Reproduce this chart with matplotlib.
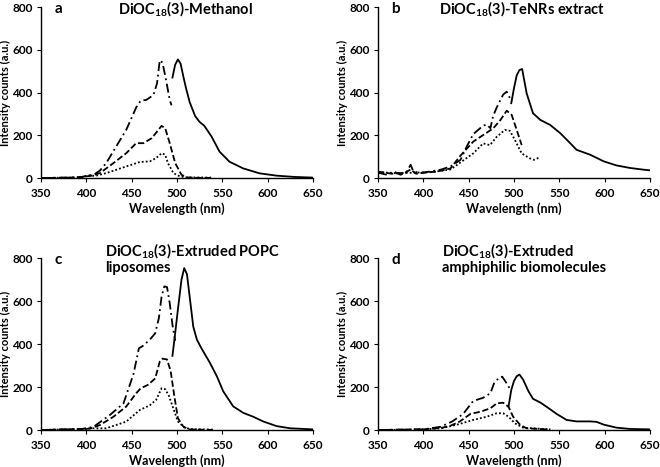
import matplotlib
matplotlib.use("Agg")
import matplotlib.pyplot as plt

plt.rcParams['font.family'] = ['Lato', 'DejaVu Sans']
plt.rcParams['font.weight'] = 'bold'
plt.rcParams['mathtext.fontset'] = 'custom'
plt.rcParams['mathtext.rm'] = 'Lato:bold'
plt.rcParams['mathtext.bf'] = 'Lato:bold'

# Panel a - Methanol
a_solid_x = [495, 498, 501, 504, 507, 510, 514, 520, 525, 530, 538, 547, 558, 573, 591, 610, 630, 650]
a_solid_y = [470, 530, 555, 535, 475, 420, 355, 290, 262, 245, 195, 123, 76, 45, 22, 11, 5, 2]
a_dashdot_x = [350, 380, 395, 402, 408, 415, 422, 433, 444, 455, 460, 466, 474, 478, 481, 484, 488, 492, 494]
a_dashdot_y = [0, 2, 5, 12, 15, 35, 70, 148, 225, 330, 362, 365, 388, 443, 551, 540, 458, 365, 340]
a_dash_x = [350, 390, 400, 405, 415, 430, 444, 455, 463, 472, 478, 483, 487, 492, 498, 505, 511, 520, 540]
a_dash_y = [0, 2, 8, 10, 23, 70, 116, 163, 163, 186, 217, 244, 233, 163, 70, 15, 3, 1, 0]
a_dot_x = [350, 395, 402, 410, 422, 444, 459, 470, 477, 483, 487, 490, 496, 503, 510, 540]
a_dot_y = [0, 3, 12, 10, 23, 54, 75, 78, 93, 116, 109, 70, 23, 8, 3, 2]

# Panel b - TeNRs extract
b_solid_x = [497, 500, 503, 506, 509, 514, 521, 529, 540, 551, 562, 569, 584, 599, 613, 628, 643, 650]
b_solid_y = [350, 420, 480, 505, 510, 396, 303, 272, 248, 210, 163, 132, 109, 78, 59, 47, 39, 36]
b_dashdot_x = [350, 360, 367, 375, 382, 386, 389, 397, 408, 419, 430, 441, 448, 455, 466, 470, 474, 477, 481, 488, 492, 497.5]
b_dashdot_y = [25, 15, 31, 15, 31, 62, 31, 23, 31, 39, 54, 85, 148, 205, 245, 250, 233, 290, 330, 390, 404, 357]
b_dash_x = [350, 365, 380, 386, 392, 400, 415, 430, 440, 455, 466, 477, 485, 492, 497.5, 503, 508.5]
b_dash_y = [30, 20, 25, 40, 20, 25, 30, 45, 100, 170, 201, 232, 271, 315, 295, 225, 154]
b_dot_x = [350, 370, 390, 410, 430, 440, 455, 466, 473.5, 481, 490, 495.5, 501, 508.5, 517.5, 522, 528.7]
b_dot_y = [28, 22, 25, 28, 40, 70, 115, 162, 154, 193, 225, 221, 178, 115, 92, 85, 97]

# Panel c - Extruded POPC liposomes
c_solid_x = [495, 498, 501, 505, 508, 511, 514, 518, 522, 527, 536, 544, 551, 562, 573, 584, 595, 610, 625, 650]
c_solid_y = [345, 450, 560, 700, 753, 725, 620, 480, 420, 380, 315, 250, 180, 110, 80, 62, 40, 18, 8, 3]
c_dashdot_x = [350, 395, 402, 408, 426, 441, 452, 458, 462, 470, 476, 480, 483, 486, 489, 492, 495, 498]
c_dashdot_y = [0, 5, 10, 15, 70, 124, 260, 380, 390, 420, 450, 520, 620, 668, 665, 590, 490, 415]
c_dash_x = [350, 400, 405, 415, 430, 444, 455, 460, 468, 476, 481, 484, 489, 493, 497, 501, 507, 513, 540]
c_dash_y = [0, 5, 8, 23, 62, 109, 171, 194, 210, 240, 318, 332, 328, 275, 160, 55, 16, 3, 0]
c_dot_x = [350, 400, 405, 422, 444, 459, 470, 477, 483, 487, 491, 496, 501, 508, 515, 540]
c_dot_y = [0, 5, 8, 8, 39, 93, 115, 140, 194, 190, 160, 100, 40, 12, 4, 2]

# Panel d - Extruded amphiphilic biomolecules
d_solid_x = [494, 497, 500, 503, 506, 510, 516, 521, 529, 537, 547, 558, 569, 584, 591, 599, 613, 628, 650]
d_solid_y = [109, 186, 228, 250, 258, 235, 180, 145, 128, 105, 75, 47, 40, 40, 38, 25, 11, 5, 3]
d_dashdot_x = [350, 400, 419, 432, 444, 455, 466, 474, 478, 483, 487, 492, 497]
d_dashdot_y = [0, 3, 15, 40, 75, 135, 150, 171, 217, 241, 248, 217, 180]
d_dash_x = [350, 400, 420, 430, 440, 452, 463, 474, 481, 488, 494, 499, 507, 514, 540]
d_dash_y = [0, 3, 10, 20, 39, 75, 85, 101, 124, 127, 108, 62, 23, 8, 2]
d_dot_x = [350, 400, 420, 440, 455, 470, 481, 488, 494, 501, 510, 540]
d_dot_y = [0, 3, 8, 28, 47, 62, 78, 78, 62, 31, 11, 3]

x_ticks = [350, 400, 450, 500, 550, 600, 650]
y_ticks = [0, 200, 400, 600, 800]

panels = [
    ("a", "DiOC$_{18}$(3)-Methanol", [0.0621, 0.6188, 0.4121, 0.3662],
     (a_solid_x, a_solid_y), (a_dashdot_x, a_dashdot_y), (a_dash_x, a_dash_y), (a_dot_x, a_dot_y)),
    ("b", "DiOC$_{18}$(3)-TeNRs extract", [0.5727, 0.6188, 0.4121, 0.3662],
     (b_solid_x, b_solid_y), (b_dashdot_x, b_dashdot_y), (b_dash_x, b_dash_y), (b_dot_x, b_dot_y)),
    ("c", "DiOC$_{18}$(3)-Extruded POPC\nliposomes", [0.0621, 0.0792, 0.4121, 0.3683],
     (c_solid_x, c_solid_y), (c_dashdot_x, c_dashdot_y), (c_dash_x, c_dash_y), (c_dot_x, c_dot_y)),
    ("d", "DiOC$_{18}$(3)-Extruded\namphiphilic biomolecules", [0.5727, 0.0792, 0.4121, 0.3683],
     (d_solid_x, d_solid_y), (d_dashdot_x, d_dashdot_y), (d_dash_x, d_dash_y), (d_dot_x, d_dot_y)),
]

fig = plt.figure(figsize=(6.6, 4.67), dpi=100)

for letter, title, pos, solid, dashdot, dash, dot in panels:
    ax = fig.add_axes(pos)
    lw = 1.3
    ax.plot(*solid, color='black', lw=lw, ls='-')
    ax.plot(*dashdot, color='black', lw=lw, ls=(0, (5, 2, 1, 2)))
    ax.plot(*dash, color='black', lw=lw, ls=(0, (3.5, 1.5)))
    ax.plot(*dot, color='black', lw=lw, ls=(0, (1, 1.2)))

    ax.set_xlim(350, 650)
    ax.set_ylim(0, 800)
    ax.set_xticks(x_ticks)
    ax.set_yticks(y_ticks)
    ax.spines['top'].set_visible(False)
    ax.spines['right'].set_visible(False)
    ax.spines['left'].set_linewidth(1.0)
    ax.spines['bottom'].set_linewidth(1.0)
    ax.tick_params(direction='out', length=3, width=0.8, labelsize=8.5, pad=3)
    ax.tick_params(axis='x', pad=4)

    ax.set_xlabel("Wavelength (nm)", fontsize=9, fontweight='bold')
    ax.set_ylabel("Intensity counts (a.u.)", fontsize=8, fontweight='bold')
    ax.xaxis.set_label_coords(0.5, -0.14)
    ax.yaxis.set_label_coords(-0.112, 0.5)

    ax.text(0.05, 0.99, letter, transform=ax.transAxes, fontsize=11,
            fontweight='bold', ha='left', va='center')
    if "\n" in title:
        ax.text(0.235, 1.0, title, transform=ax.transAxes, fontsize=10.5,
                fontweight='bold', ha='left', va='center', linespacing=1.0)
    else:
        ax.text(0.53, 0.985, title, transform=ax.transAxes, fontsize=10.5,
                fontweight='bold', ha='center', va='center')

fig.savefig("out.png", dpi=100)
